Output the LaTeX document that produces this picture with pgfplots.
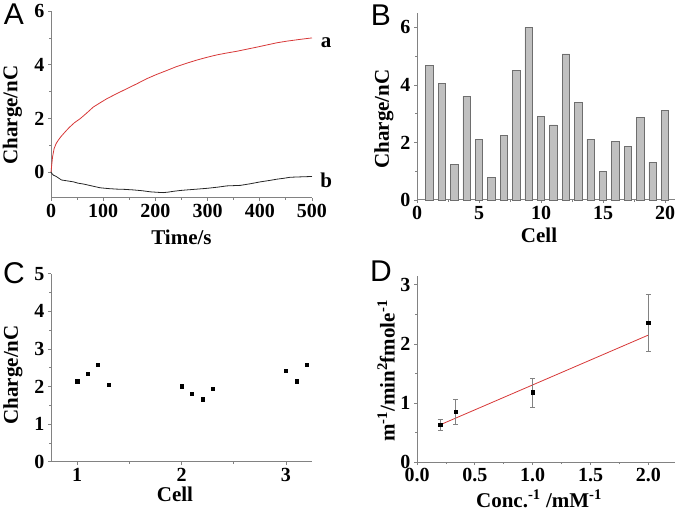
\documentclass[border=0pt]{standalone}
\usepackage{pgfplots}
\pgfplotsset{compat=1.18}
\usepackage{fontspec}
\setmainfont{Liberation Serif}
\newfontfamily\panelfont{Liberation Sans}
\definecolor{axgray}{RGB}{130,130,130}
\definecolor{curvered}{RGB}{215,55,55}
\definecolor{barfill}{RGB}{192,192,192}
\definecolor{baredge}{RGB}{110,110,110}
\pgfplotsset{
  myaxis/.style={
    scale only axis,
    anchor=south west,
    axis x line=bottom, axis y line=left,
    axis line style={-, axgray, line width=1pt},
    every inner x axis line/.append style={-},
    every outer x axis line/.append style={-},
    every inner y axis line/.append style={-},
    every outer y axis line/.append style={-},
    tick align=outside,
    major tick length=3pt, minor tick length=2pt,
    tick style={axgray, line width=0.8pt},
    minor tick num=1,
    tick label style={font=\fontsize{20}{22}\selectfont\rmfamily\bfseries, black},
    label style={font=\fontsize{21}{24}\selectfont\bfseries},
    ylabel style={anchor=center},
    xlabel style={anchor=center},
    clip=false,
  }
}
\begin{document}
\begin{tikzpicture}
\useasboundingbox (0,0) rectangle (680pt,512pt);
% Panel A
\begin{axis}[myaxis, at={(51pt,314pt)}, width=261pt, height=187pt,
  xmin=0, xmax=500, ymin=-0.95, ymax=6,
  xtick={0,100,200,300,400,500}, ytick={0,2,4,6},
  xticklabels={0,100,200,300,400,500}, yticklabels={0,2,4,6},
  xlabel={Time/s}, ylabel={Charge/nC},
  xlabel style={at={(axis description cs:0.5,-0.209)}},
  ylabel style={at={(axis description cs:-0.1475,0.444)}},
]
\addplot[curvered, line width=0.8pt] coordinates {
(0,0) (1,0.21) (3,0.58) (6,0.89) (10,1.08) (14,1.2) (19,1.33) (24,1.44) (30,1.57) (36,1.69) (45,1.85) (56,2.0) (68,2.2) (81,2.43) (95,2.6) (107,2.74) (125,2.92) (145,3.11) (165,3.3) (183,3.48) (202,3.64) (222,3.79) (240,3.93) (260,4.06) (280,4.18) (299,4.28) (318,4.37) (337,4.44) (355,4.5) (375,4.58) (395,4.66) (414,4.74) (433,4.82) (452,4.88) (475,4.94) (500,5.0)};
\addplot[black!85, line width=0.8pt] coordinates {
(0,0) (4.5,-0.1) (10,-0.15) (20,-0.28) (30,-0.31) (43,-0.35) (52,-0.4) (62,-0.43) (78,-0.5) (94,-0.57) (110,-0.6) (126,-0.62) (142,-0.63) (158,-0.65) (175,-0.68) (190,-0.72) (205,-0.74) (215,-0.75) (225,-0.73) (235,-0.70) (248,-0.67) (260,-0.65) (280,-0.62) (299,-0.59) (318,-0.55) (337,-0.5) (350,-0.49) (363,-0.48) (382,-0.42) (401,-0.35) (418,-0.30) (433,-0.25) (445,-0.22) (458,-0.18) (470,-0.17) (485,-0.16) (500,-0.15)};
\node[font=\fontsize{21}{24}\selectfont\bfseries] at (axis cs:527,4.82) {a};
\node[font=\fontsize{21}{24}\selectfont\bfseries] at (axis cs:527,-0.29) {b};
\end{axis}
% Panel B
\begin{axis}[myaxis, at={(417pt,312pt)}, width=258pt, height=187pt,
  xmin=0, xmax=20.8, ymin=0, ymax=6.5,
  xtick={0,5,10,15,20}, ytick={0,2,4,6},
  xticklabels={0,5,10,15,20}, yticklabels={0,2,4,6},
  xlabel={Cell}, ylabel={Charge/nC},
  xlabel style={at={(axis description cs:0.473,-0.187)}},
  ylabel style={at={(axis description cs:-0.128,0.433)}},
]
\addplot[ybar, bar width=7.4pt, fill=barfill, draw=baredge, line width=0.7pt] coordinates {
(1,4.68) (2,4.06) (3,1.23) (4,3.6) (5,2.12) (6,0.79) (7,2.23) (8,4.51) (9,6.0) (10,2.91)
(11,2.61) (12,5.08) (13,3.38) (14,2.12) (15,1.0) (16,2.04) (17,1.86) (18,2.87) (19,1.32) (20,3.11)};
\end{axis}
% Panel C
\begin{axis}[myaxis, at={(51pt,50.3pt)}, width=261pt, height=188pt,
  xmin=0.75, xmax=3.25, ymin=0, ymax=5,
  xtick={1,2,3}, ytick={0,1,2,3,4,5},
  xticklabels={1,2,3}, yticklabels={0,1,2,3,4,5},
  xlabel={Cell}, ylabel={Charge/nC},
  xlabel style={at={(axis description cs:0.475,-0.172)}},
  ylabel style={at={(axis description cs:-0.146,0.462)}},
]
\addplot[only marks, mark=square*, mark size=1.6pt, black] coordinates {
(1.0,2.14) (1.1,2.35) (1.2,2.58) (1.3,2.04)
(2.0,2.01) (2.1,1.81) (2.2,1.66) (2.3,1.95)
(3.0,2.42) (3.1,2.14) (3.2,2.58)};
\end{axis}
% Panel D
\begin{axis}[myaxis, at={(417pt,50pt)}, width=258pt, height=186pt,
  xmin=0, xmax=2.23, ymin=0, ymax=3.15,
  xtick={0,0.5,1,1.5,2}, ytick={0,1,2,3},
  xticklabels={0.0,0.5,1.0,1.5,2.0}, yticklabels={0,1,2,3},
  xlabel={Conc.\textsuperscript{-1} /mM\textsuperscript{-1}},
  ylabel={m\textsuperscript{-1}/min\textsuperscript{2}fmole\textsuperscript{-1}},
  xlabel style={at={(axis description cs:0.473,-0.199)}},
  ylabel style={at={(axis description cs:-0.12,0.489)}},
]
\addplot[curvered, line width=0.8pt] coordinates {(0.2,0.63) (2.0,2.15)};
\addplot[only marks, mark=square*, mark size=1.8pt, black,
  error bars/.cd, y dir=both, y explicit,
  error bar style={axgray, line width=0.8pt},
  error mark options={axgray, mark size=2.5pt, rotate=90}]
  coordinates {
  (0.2,0.63) +- (0,0.095)
  (0.333,0.85) +- (0,0.21)
  (1.0,1.18) +- (0,0.245)
  (2.0,2.36) +- (0,0.485)};
\end{axis}
% panel letters
\node[font=\fontsize{30}{32}\selectfont\panelfont] at (14pt,498pt) {A};
\node[font=\fontsize{30}{32}\selectfont\panelfont] at (381pt,497pt) {B};
\node[font=\fontsize{30}{32}\selectfont\panelfont] at (14pt,239pt) {C};
\node[font=\fontsize{30}{32}\selectfont\panelfont] at (381pt,241pt) {D};
\end{tikzpicture}
\end{document}
